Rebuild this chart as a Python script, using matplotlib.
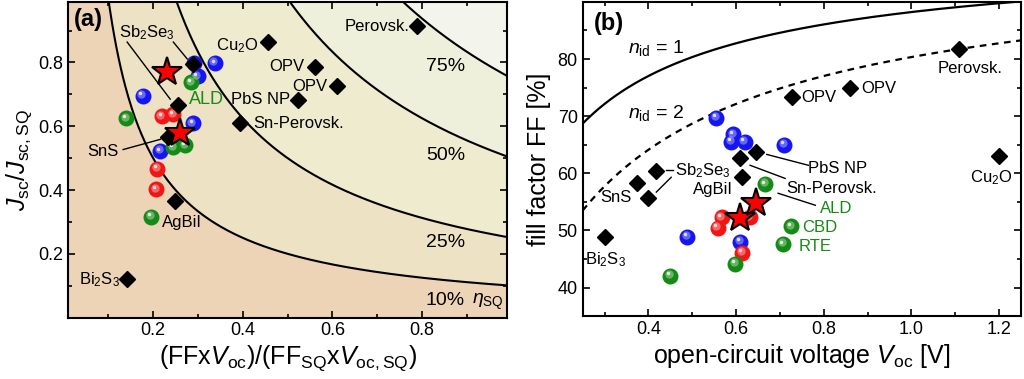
import numpy as np
import matplotlib
matplotlib.use("Agg")
import matplotlib.pyplot as plt
from matplotlib.transforms import offset_copy

plt.rcParams['font.family'] = ['Liberation Sans', 'DejaVu Sans']
plt.rcParams['mathtext.fontset'] = 'custom'
plt.rcParams['mathtext.rm'] = 'Liberation Sans'
plt.rcParams['mathtext.it'] = 'Liberation Sans:italic'
plt.rcParams['mathtext.bf'] = 'Liberation Sans:bold'

# ---- panel (a) data: relative Voc*FF vs relative Jsc ----
eta_levels = [0.10, 0.25, 0.50, 0.75]
eta_labels = ["10%", "25%", "50%", "75%"]
eta_fill = ["#EED4B7", "#EDE2C4", "#EEEBCF", "#EFF0DC", "#F3F5EC"]

a_dia_x = [0.788, 0.457, 0.560, 0.609, 0.524, 0.394, 0.289, 0.256, 0.234, 0.249, 0.141]
a_dia_y = [0.915, 0.864, 0.786, 0.726, 0.682, 0.610, 0.795, 0.666, 0.565, 0.367, 0.121]

a_blue_x = [0.338, 0.300, 0.292, 0.177, 0.289, 0.216]
a_blue_y = [0.798, 0.757, 0.798, 0.695, 0.609, 0.522]
a_red_x = [0.220, 0.245, 0.209, 0.207]
a_red_y = [0.631, 0.637, 0.467, 0.402]
a_green_x = [0.140, 0.285, 0.245, 0.272, 0.196]
a_green_y = [0.625, 0.738, 0.534, 0.540, 0.316]
a_star_x = [0.231, 0.260]
a_star_y = [0.771, 0.580]

# ---- panel (b) data: FF vs Voc ----
n_id = [1, 2]
b_dia_x = [0.300, 0.373, 0.418, 0.400, 0.610, 0.646, 0.614, 0.727, 0.860, 1.109, 1.200]
b_dia_y = [48.9, 58.3, 60.4, 55.7, 62.6, 63.8, 59.3, 73.3, 74.9, 81.7, 63.1]

b_blue_x = [0.555, 0.594, 0.589, 0.620, 0.710, 0.489, 0.610]
b_blue_y = [69.7, 66.8, 65.5, 65.5, 65.0, 48.9, 48.0]
b_red_x = [0.567, 0.558, 0.632, 0.614]
b_red_y = [52.3, 50.5, 52.3, 46.1]
b_green_x = [0.667, 0.726, 0.708, 0.598, 0.450]
b_green_y = [58.1, 50.7, 47.6, 44.2, 42.1]
b_star_x = [0.610, 0.646]
b_star_y = [52.2, 54.8]

RED = "#F01616"
BLUE = "#1616F0"
GREEN = "#168A16"


def balls(ax, x, y, color):
    ax.plot(x, y, 'o', ms=11.5, color=color, mec='none', zorder=5)
    tr = offset_copy(ax.transData, fig=ax.figure, x=-1.2, y=1.2, units='points')
    ax.plot(x, y, 'o', ms=6, color='white', alpha=0.35, mec='none', transform=tr, zorder=6)
    tr2 = offset_copy(ax.transData, fig=ax.figure, x=-1.8, y=1.8, units='points')
    ax.plot(x, y, 'o', ms=2.5, color='white', alpha=0.8, mec='none', transform=tr2, zorder=7)


def style(ax):
    ax.tick_params(which='both', direction='in', top=True, right=True, labelsize=13)
    ax.tick_params(which='major', length=5, width=1.2)
    ax.tick_params(which='minor', length=3, width=1.2)
    for s in ax.spines.values():
        s.set_linewidth(1.5)


fig = plt.figure(figsize=(10.24, 3.79), dpi=100)
ax1 = fig.add_axes([0.0664, 0.162, 0.429, 0.833])
ax2 = fig.add_axes([0.569, 0.166, 0.428, 0.829])

# ---------------- (a) ----------------
xx = np.linspace(0.01, 0.99, 400)
bounds = [np.zeros_like(xx)] + [np.clip(e / xx, 0, 1) for e in eta_levels] + [np.ones_like(xx)]
for i in range(len(bounds) - 1):
    ax1.fill_between(xx, bounds[i], bounds[i + 1], color=eta_fill[i], lw=0, zorder=0)
for e in eta_levels:
    ax1.plot(xx, e / xx, 'k-', lw=1.5, zorder=1)

for lab, yy in zip(eta_labels, [0.055, 0.234, 0.509, 0.786]):
    ax1.text(0.852, yy, lab, fontsize=14, ha='center', va='center')
ax1.text(0.912, 0.050, r'$\eta_{\rm SQ}$', fontsize=14, ha='left', va='center')

ax1.plot([0.142, 0.238], [0.864, 0.685], 'k-', lw=1)
ax1.plot([0.245, 0.276], [0.864, 0.811], 'k-', lw=1)
ax1.plot([0.133, 0.216], [0.527, 0.559], 'k-', lw=1)

balls(ax1, a_blue_x, a_blue_y, BLUE)
balls(ax1, a_red_x, a_red_y, RED)
balls(ax1, a_green_x, a_green_y, GREEN)
ax1.plot(a_dia_x, a_dia_y, 'D', ms=8, color='k', zorder=8)
ax1.plot(a_star_x, a_star_y, '*', ms=22, color='red', mec='k', mew=1.5, zorder=9)

fs = 12
ax1.text(0.772, 0.912, "Perovsk.", fontsize=fs, ha='right', va='center')
ax1.text(0.435, 0.852, r"Cu$_2$O", fontsize=fs, ha='right', va='center')
ax1.text(0.537, 0.786, "OPV", fontsize=fs, ha='right', va='center')
ax1.text(0.588, 0.726, "OPV", fontsize=fs, ha='right', va='center')
ax1.text(0.506, 0.685, "PbS NP", fontsize=fs, ha='right', va='center')
ax1.text(0.423, 0.610, "Sn-Perovsk.", fontsize=fs, ha='left', va='center')
ax1.text(0.187, 0.895, r"Sb$_2$Se$_3$", fontsize=fs, ha='center', va='center')
ax1.text(0.280, 0.685, "ALD", fontsize=fs + 1, ha='left', va='center', color=GREEN)
ax1.text(0.122, 0.520, "SnS", fontsize=fs, ha='right', va='center')
ax1.text(0.220, 0.297, "AgBiI", fontsize=fs, ha='left', va='center')
ax1.text(0.125, 0.120, r"Bi$_2$S$_3$", fontsize=fs, ha='right', va='center')
ax1.text(0.055, 0.935, "(a)", fontsize=17, fontweight='bold', ha='center', va='center')

ax1.set_xlim(0.01, 0.99)
ax1.set_ylim(0, 0.99)
ax1.set_xticks([0.2, 0.4, 0.6, 0.8])
ax1.set_xticks(np.arange(0.1, 1.0, 0.1), minor=True)
ax1.set_yticks([0.2, 0.4, 0.6, 0.8])
ax1.set_yticks(np.arange(0.1, 1.0, 0.1), minor=True)
ax1.set_xticklabels(["0.2", "0.4", "0.6", "0.8"])
ax1.set_yticklabels(["0.2", "0.4", "0.6", "0.8"])
style(ax1)
ax1.set_xlabel(r"(FFx$V_{\rm oc}$)/(FF$_{\rm SQ}$x$V_{\rm oc,SQ}$)", fontsize=18, labelpad=3)
ax1.set_ylabel(r"$J_{\rm sc}/J_{\rm sc,SQ}$", fontsize=18, labelpad=3)

# ---------------- (b) ----------------
vv = np.linspace(0.25, 1.25, 300)
kT = 0.025852
for n, ls in zip(n_id, ['-', '--']):
    voc = vv / (n * kT)
    ff = (voc - np.log(voc + 0.72)) / (voc + 1) * 100
    ax2.plot(vv, ff, 'k', ls=ls, lw=1.6, dashes=(3, 2.5) if ls == '--' else (None, None))

ax2.text(0.354, 81.9, r"$n_{\rm id}$ = 1", fontsize=14, ha='left', va='center')
ax2.text(0.354, 70.6, r"$n_{\rm id}$ = 2", fontsize=14, ha='left', va='center')

ax2.plot([0.452, 0.418], [59.3, 56.7], 'k-', lw=1)
ax2.plot([0.440, 0.456], [60.5, 60.5], 'k-', lw=1)
ax2.plot([0.670, 0.765], [63.3, 61.4], 'k-', lw=1)
ax2.plot([0.632, 0.712], [61.4, 59.1], 'k-', lw=1)
ax2.plot([0.696, 0.781], [56.5, 54.4], 'k-', lw=1)

balls(ax2, b_blue_x, b_blue_y, BLUE)
balls(ax2, b_red_x, b_red_y, RED)
balls(ax2, b_green_x, b_green_y, GREEN)
ax2.plot(b_dia_x, b_dia_y, 'D', ms=8, color='k', zorder=8)
ax2.plot(b_star_x, b_star_y, '*', ms=22, color='red', mec='k', mew=1.5, zorder=9)

ax2.text(0.361, 55.8, "SnS", fontsize=fs, ha='right', va='center')
ax2.text(0.461, 60.5, r"Sb$_2$Se$_3$", fontsize=fs, ha='left', va='center')
ax2.text(0.594, 57.2, "AgBiI", fontsize=fs, ha='right', va='center')
ax2.text(0.765, 60.9, "PbS NP", fontsize=fs, ha='left', va='center')
ax2.text(0.715, 57.4, "Sn-Perovsk.", fontsize=fs, ha='left', va='center')
ax2.text(0.792, 53.9, "ALD", fontsize=fs, ha='left', va='center', color=GREEN)
ax2.text(0.751, 50.5, "CBD", fontsize=fs, ha='left', va='center', color=GREEN)
ax2.text(0.742, 47.1, "RTE", fontsize=fs, ha='left', va='center', color=GREEN)
ax2.text(0.749, 73.3, "OPV", fontsize=fs, ha='left', va='center')
ax2.text(0.885, 74.9, "OPV", fontsize=fs, ha='left', va='center')
ax2.text(1.133, 78.3, "Perovsk.", fontsize=fs, ha='center', va='center')
ax2.text(1.183, 59.3, r"Cu$_2$O", fontsize=fs, ha='center', va='center')
ax2.text(0.303, 44.9, r"Bi$_2$S$_3$", fontsize=fs, ha='center', va='center')
ax2.text(0.309, 86.3, "(b)", fontsize=17, fontweight='bold', ha='center', va='center')

ax2.set_xlim(0.25, 1.25)
ax2.set_ylim(35, 90)
ax2.set_xticks([0.4, 0.6, 0.8, 1.0, 1.2])
ax2.set_xticklabels(["0.4", "0.6", "0.8", "1.0", "1.2"])
ax2.set_xticks(np.arange(0.3, 1.25, 0.1), minor=True)
ax2.set_yticks([40, 50, 60, 70, 80])
ax2.set_yticks(np.arange(40, 90, 5), minor=True)
style(ax2)
ax2.set_xlabel(r"open-circuit voltage $V_{\rm oc}$ [V]", fontsize=18, labelpad=3)
ax2.set_ylabel("fill factor FF [%]", fontsize=18, labelpad=5)

fig.savefig("out.png", dpi=100)
